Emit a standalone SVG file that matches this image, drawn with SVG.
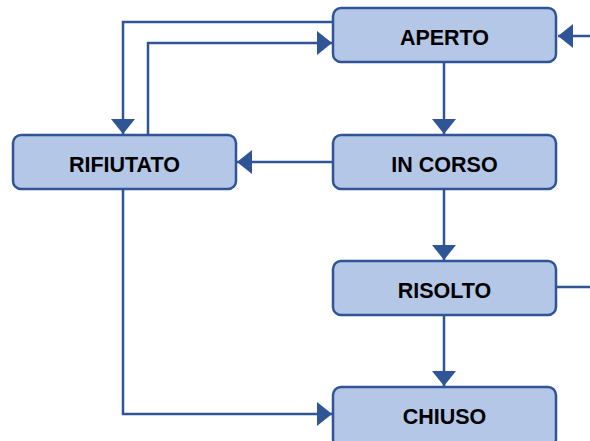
<svg xmlns="http://www.w3.org/2000/svg" width="590" height="441" viewBox="0 0 590 441">
<style>
.node rect{fill:#b4c7e7;stroke:#2f5597;stroke-width:2.5}
.node text{font-family:"Liberation Sans",Arial,sans-serif;font-weight:bold;font-size:21.5px;fill:#000;text-anchor:middle}
.edges path{fill:none;stroke:#2f5597;stroke-width:2.5}
</style>
<defs>
<marker id="ah" markerUnits="userSpaceOnUse" markerWidth="16" markerHeight="24" refX="15" refY="12" orient="auto">
<path d="M0,0 L15,12 L0,24 Z" fill="#2f5597"/>
</marker>
</defs>
<rect width="590" height="441" fill="#fff"/>
<g class="edges">
<path d="M590,36 H558" marker-end="url(#ah)"/>
<path d="M444,62 V134" marker-end="url(#ah)"/>
<path d="M333,162 H237" marker-end="url(#ah)"/>
<path d="M444,189 V260" marker-end="url(#ah)"/>
<path d="M444,315 V386" marker-end="url(#ah)"/>
<path d="M333,22 H123 V134" marker-end="url(#ah)"/>
<path d="M148,135 V43 H332" marker-end="url(#ah)"/>
<path d="M123,189 V414 H332" marker-end="url(#ah)"/>
<path d="M556,287 H590"/>
</g>
<g id="aperto" class="node"><rect x="333" y="8" width="223" height="54" rx="8"/><text x="444.5" y="44.5">APERTO</text></g>
<g id="incorso" class="node"><rect x="333" y="135" width="223" height="54" rx="8"/><text x="444.5" y="171.5">IN CORSO</text></g>
<g id="rifiutato" class="node"><rect x="13" y="135" width="223" height="54" rx="8"/><text x="124.5" y="171.5">RIFIUTATO</text></g>
<g id="risolto" class="node"><rect x="333" y="261" width="223" height="54" rx="8"/><text x="444.5" y="297.5">RISOLTO</text></g>
<g id="chiuso" class="node"><rect x="333" y="387" width="223" height="60" rx="8"/><text x="444.5" y="423.5">CHIUSO</text></g>
</svg>
